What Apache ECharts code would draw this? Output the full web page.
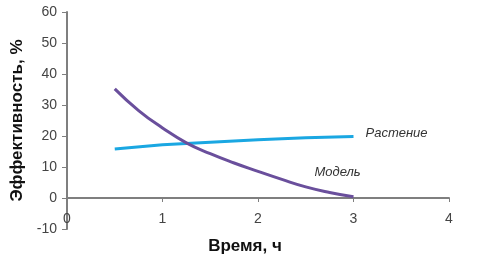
<!DOCTYPE html>
<html><head><meta charset="utf-8">
<script src="https://cdn.jsdelivr.net/npm/echarts@6/dist/echarts.min.js"></script>
<style>html,body{margin:0;padding:0;background:#fff}#c{width:490px;height:259px}</style>
</head><body><div id="c"></div>
<script>
const timeModel = [0.5, 0.75, 1, 1.25, 1.5, 1.75, 2, 2.25, 2.5, 2.75, 3];
const modelValues = [35.2, 28.2, 22.6, 17.8, 14.3, 11.3, 8.6, 6.0, 3.6, 1.8, 0.4];
const timePlant = [0.5, 1, 1.5, 2, 2.5, 3];
const plantValues = [15.8, 17.2, 18.0, 18.8, 19.4, 19.8];
const seriesNames = ['Растение', 'Модель'];
const xName = 'Время, ч';
const yName = 'Эффективность, %';

const chart = echarts.init(document.getElementById('c'));
const font = 'Liberation Sans, Arial, sans-serif';
const axisCol = '#7f7f7f';
chart.setOption({
  animation: false,
  textStyle: {fontFamily: font},
  grid: {left: 67, right: 41, top: 12, bottom: 30, containLabel: false, outerBoundsMode: 'none'},
  xAxis: {
    type: 'value', min: 0, max: 4, interval: 1,
    name: xName, nameLocation: 'middle', nameGap: 9,
    nameTextStyle: {fontWeight: 'bold', fontSize: 17, color: '#111', fontFamily: font, padding: [0, 26, 0, 0]},
    axisLine: {onZero: true, lineStyle: {color: axisCol, width: 2}},
    axisTick: {show: true, length: 4, inside: false, lineStyle: {color: axisCol, width: 1}},
    axisLabel: {fontSize: 14, color: '#444', margin: -17, fontFamily: font},
    splitLine: {show: false}
  },
  yAxis: {
    type: 'value', min: -10, max: 60, interval: 10,
    name: yName, nameLocation: 'middle', nameGap: 38, nameRotate: 90,
    nameTextStyle: {fontWeight: 'bold', fontSize: 17, color: '#111', fontFamily: font},
    axisLine: {show: true, onZero: false, lineStyle: {color: axisCol, width: 2}},
    axisTick: {show: true, length: 5, lineStyle: {color: axisCol, width: 1}},
    axisLabel: {fontSize: 14, color: '#444', margin: 10, fontFamily: font},
    splitLine: {show: false}
  },
  series: [
    {
      name: seriesNames[0], type: 'line', showSymbol: false, symbol: 'none',
      data: timePlant.map((t, i) => [t, plantValues[i]]),
      lineStyle: {color: '#1aa7e2', width: 3},
      endLabel: {show: true, formatter: '{a}', fontStyle: 'italic', fontSize: 13, color: '#333', offset: [4, -3], fontFamily: font}
    },
    {
      name: seriesNames[1], type: 'line', showSymbol: false, symbol: 'none', smooth: true,
      data: timeModel.map((t, i) => [t, modelValues[i]]),
      lineStyle: {color: '#6a4f9c', width: 3},
      endLabel: {show: true, formatter: '{a}', fontStyle: 'italic', fontSize: 13, color: '#333', offset: [-47, -24], fontFamily: font}
    }
  ]
});
</script></body></html>
